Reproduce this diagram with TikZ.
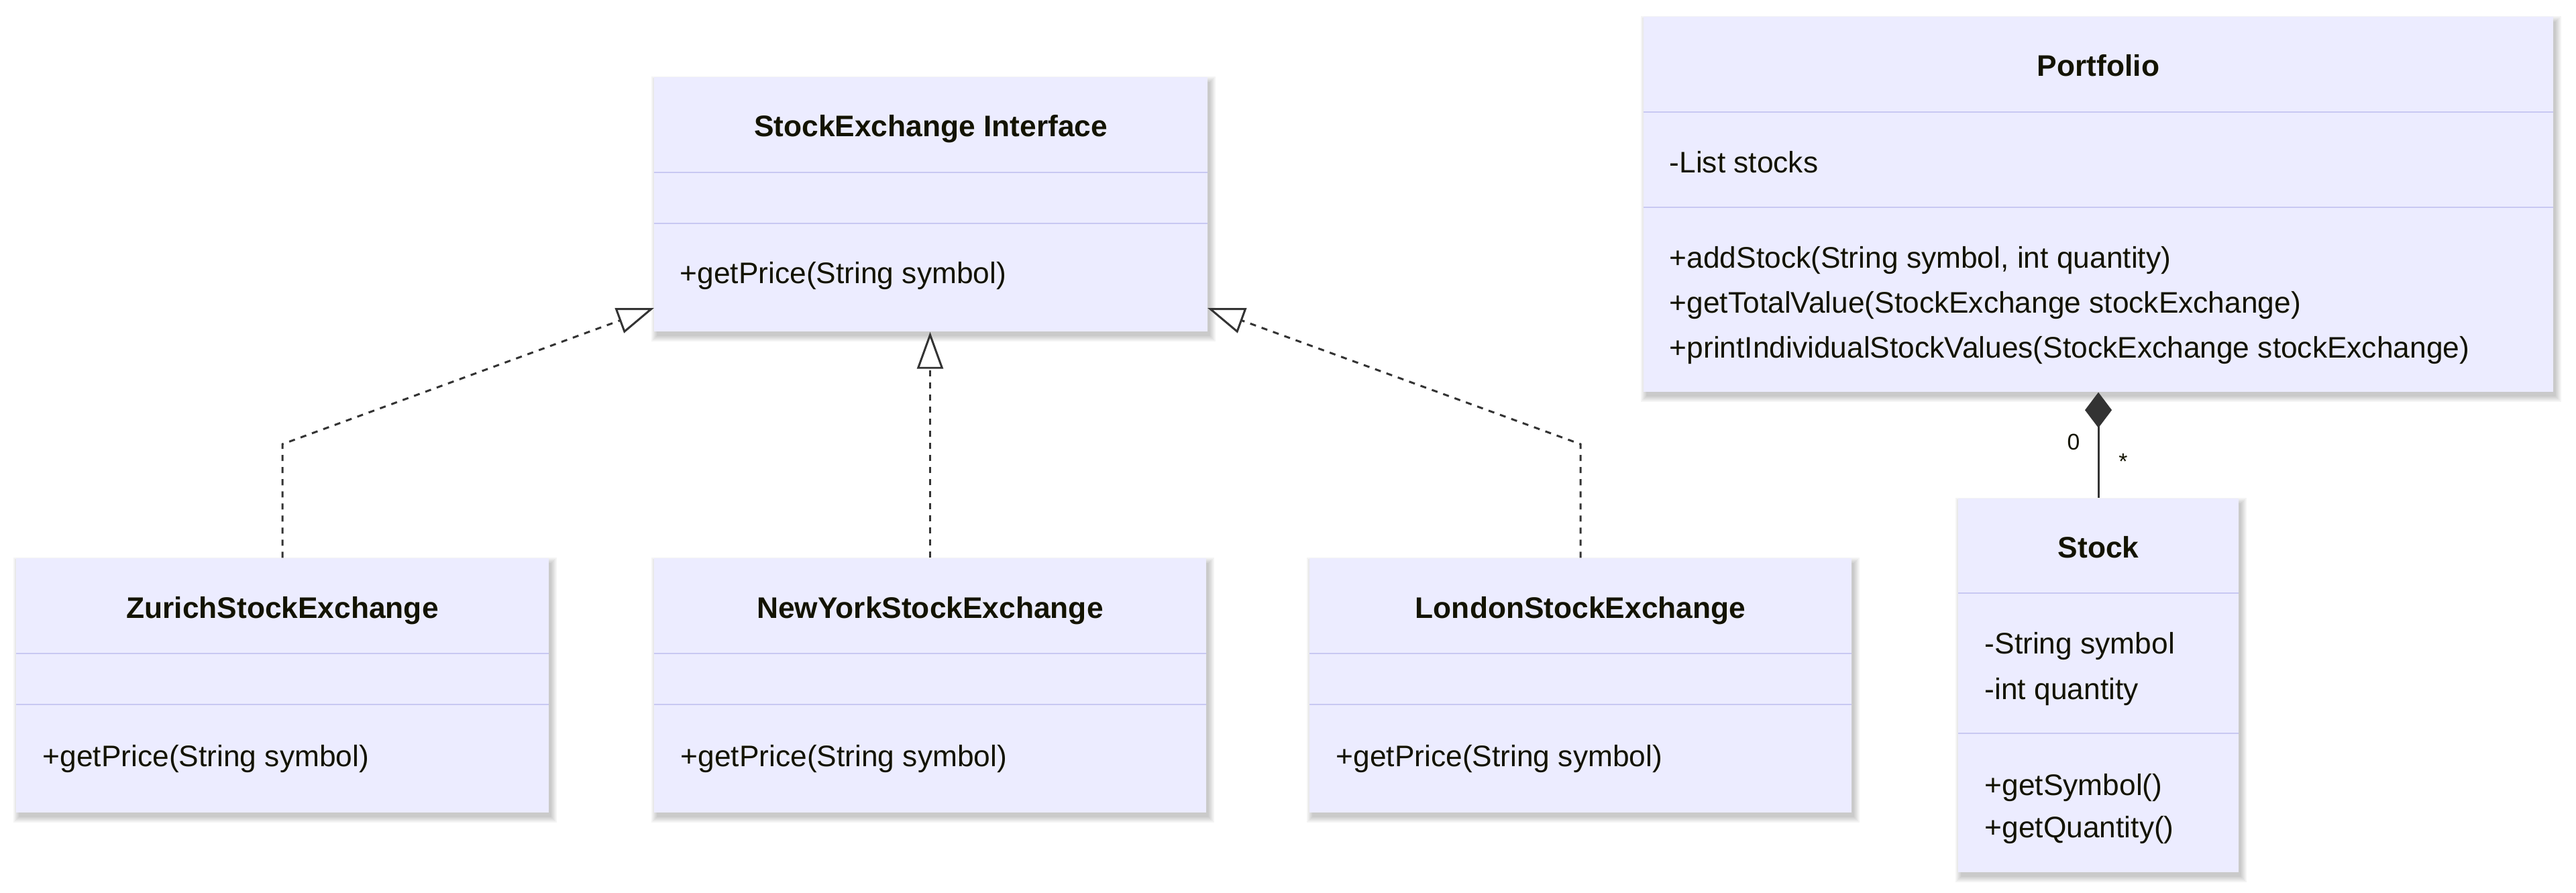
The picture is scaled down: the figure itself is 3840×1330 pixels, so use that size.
\documentclass[tikz,border=0pt]{standalone}
\usepackage{fontspec}
\setmainfont{Liberation Sans}
\usetikzlibrary{arrows.meta,fit}
\definecolor{boxfill}{HTML}{ECECFF}
\definecolor{divcol}{HTML}{C8C8F2}
\definecolor{linecol}{HTML}{333333}
\definecolor{txtcol}{HTML}{131300}
\newcommand\boxshadow[4]{%
  \foreach \e in {0,2,4,6,8}{\fill[black,opacity=0.045] (#1+4-\e,#2+7-\e) rectangle (#3+4+\e,#4+7+\e);}}
\tikzset{
  boxshape/.style={inner sep=0pt, fill=boxfill, draw=none},
  divider/.style={draw=divcol, line width=0.8pt},
  ttl/.style={font=\fontsize{12.6pt}{15pt}\selectfont\bfseries, text=txtcol, inner sep=0pt, anchor=mid, yshift=-0.05cm},
  mbr/.style={font=\fontsize{12.6pt}{15pt}\selectfont, text=txtcol, inner sep=0pt, anchor=mid west, yshift=-0.05cm},
  lbl/.style={font=\fontsize{9.6pt}{11pt}\selectfont, text=txtcol, inner sep=0pt},
  real/.style={draw=linecol, line width=0.85pt, dash pattern=on 0.09cm off 0.09cm,
    -{Triangle[length=0.55cm,width=0.39cm,fill=white]}},
  comp/.style={draw=linecol, line width=0.85pt,
    {Diamond[length=0.53cm,width=0.40cm,fill=linecol]}-},
}
\begin{document}
\begin{tikzpicture}[x=0.01cm,y=-0.01cm]
\useasboundingbox (0,0) rectangle (3840,1330);
\fill[white] (0,0) rectangle (3840,1330);

% StockExchange Interface
\boxshadow{975}{115}{1800}{494}
\node[boxshape, fit={(975,115)(1800,494)}] (iface) {};
\draw[divider] (975,257) -- (1800,257);
\draw[divider] (975,333) -- (1800,333);
\node[ttl] (ifaceT) at (1387.5,189) {StockExchange Interface};
\node[mbr] (ifaceM) at (1013,408) {+getPrice(String symbol)};

% Zurich
\boxshadow{24}{832}{818}{1211}
\node[boxshape, fit={(24,832)(818,1211)}] (zur) {};
\draw[divider] (24,974) -- (818,974);
\draw[divider] (24,1050) -- (818,1050);
\node[ttl] (zurT) at (421,907) {ZurichStockExchange};
\node[mbr] (zurM) at (63,1128) {+getPrice(String symbol)};

% NewYork
\boxshadow{975}{832}{1798}{1211}
\node[boxshape, fit={(975,832)(1798,1211)}] (ny) {};
\draw[divider] (975,974) -- (1798,974);
\draw[divider] (975,1050) -- (1798,1050);
\node[ttl] (nyT) at (1386.5,907) {NewYorkStockExchange};
\node[mbr] (nyM) at (1014,1128) {+getPrice(String symbol)};

% London
\boxshadow{1952}{832}{2760}{1211}
\node[boxshape, fit={(1952,832)(2760,1211)}] (lon) {};
\draw[divider] (1952,974) -- (2760,974);
\draw[divider] (1952,1050) -- (2760,1050);
\node[ttl] (lonT) at (2356,907) {LondonStockExchange};
\node[mbr] (lonM) at (1991,1128) {+getPrice(String symbol)};

% Portfolio
\boxshadow{2450}{25}{3806}{584}
\node[boxshape, fit={(2450,25)(3806,584)}] (port) {};
\draw[divider] (2450,167) -- (3806,167);
\draw[divider] (2450,309) -- (3806,309);
\node[ttl] (portT) at (3128,99) {Portfolio};
\node[mbr] (portA) at (2488,243) {-List stocks};
\node[mbr] (portM1) at (2488,385) {+addStock(String symbol, int quantity)};
\node[mbr] (portM2) at (2488,452) {+getTotalValue(StockExchange stockExchange)};
\node[mbr] (portM3) at (2488,519) {+printIndividualStockValues(StockExchange stockExchange)};

% Stock
\boxshadow{2919}{743}{3337}{1300}
\node[boxshape, fit={(2919,743)(3337,1300)}] (stock) {};
\draw[divider] (2919,884) -- (3337,884);
\draw[divider] (2919,1093) -- (3337,1093);
\node[ttl] (stockT) at (3128,817) {Stock};
\node[mbr] (stockA1) at (2958,960) {-String symbol};
\node[mbr] (stockA2) at (2958,1028) {-int quantity};
\node[mbr] (stockM1) at (2958,1171) {+getSymbol()};
\node[mbr] (stockM2) at (2958,1234) {+getQuantity()};

% connectors
\coordinate (zb) at (421,662);
\coordinate (ifL) at (975,459);
\coordinate (lb) at (2356,662);
\coordinate (ifR) at (1800,459);
\draw[real] (zur.north) -- (zb) -- (ifL);
\draw[real] (ny.north) -- (ny.north |- iface.south);
\draw[real] (lon.north) -- (lb) -- (ifR);
\draw[comp] (port.south) -- (stock.north);
\node[lbl] (m0) at (3091,659) {0};
\node[lbl] (ms) at (3165,688) {*};
\end{tikzpicture}
\end{document}
